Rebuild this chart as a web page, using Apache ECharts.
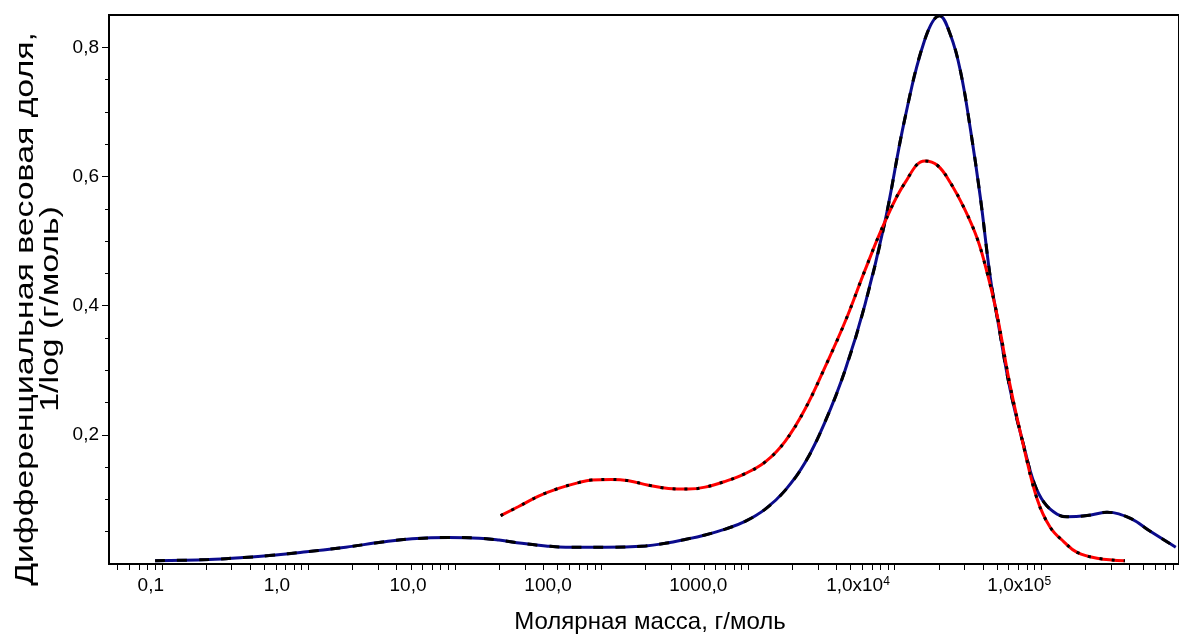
<!DOCTYPE html>
<html>
<head>
<meta charset="utf-8">
<script src="https://cdn.jsdelivr.net/npm/echarts@6.0.0/dist/echarts.min.js"></script>
<style>
html,body{margin:0;padding:0;background:#fff;}
#main{width:1179px;height:639px;}
</style>
</head>
<body>
<div id="main"></div>
<script>
// синяя кривая: молярная масса (г/моль) и дифф. весовая доля
var massBlue = [0.09, 0.21, 0.36, 0.54, 0.97, 1.8, 3.2, 5.1, 9.1, 14.6, 20, 28.6, 41.6, 57, 106, 200, 272, 372, 509, 698, 955, 1310, 1790, 2450, 3350, 4590, 6280, 8590, 11750, 16070, 20240, 24050, 28130, 32890, 38460, 44980, 50240, 61520, 76600, 89600, 104800, 128500, 150300, 205600, 281200, 403000, 551000, 828000];
var valBlue = [0.005, 0.007, 0.010, 0.013, 0.019, 0.026, 0.034, 0.039, 0.041, 0.040, 0.037, 0.032, 0.028, 0.026, 0.026, 0.028, 0.032, 0.038, 0.045, 0.054, 0.066, 0.085, 0.114, 0.157, 0.220, 0.300, 0.402, 0.530, 0.690, 0.812, 0.849, 0.819, 0.763, 0.673, 0.567, 0.443, 0.380, 0.269, 0.180, 0.125, 0.095, 0.077, 0.073, 0.075, 0.080, 0.071, 0.051, 0.026];
// красная кривая
var massRed = [20.5, 27.2, 37.2, 50.9, 69.8, 85.5, 117, 153, 209, 286, 391, 509, 698, 955, 1310, 1790, 2450, 3350, 4590, 6280, 8590, 11750, 16070, 19630, 24050, 29940, 36710, 42960, 50240, 61520, 76600, 94000, 115100, 143300, 175700, 240400, 372600];
var valRed = [0.075, 0.089, 0.105, 0.117, 0.126, 0.130, 0.131, 0.129, 0.122, 0.117, 0.116, 0.119, 0.128, 0.140, 0.158, 0.190, 0.240, 0.305, 0.375, 0.455, 0.530, 0.590, 0.624, 0.617, 0.590, 0.550, 0.503, 0.449, 0.383, 0.275, 0.178, 0.100, 0.057, 0.034, 0.018, 0.009, 0.005];

// подписи оси X и где они стоят (log10 M)
var xLabelText = ['0,1', '1,0', '10,0', '100,0', '1000,0', '1,0x10^4', '1,0x10^5'];
var xLabelPos = [-1.075, -0.214, 0.68, 1.636, 2.66, 3.75, 4.85];
var yLabelVals = [0.2, 0.4, 0.6, 0.8];
var yMinorVals = [0.05, 0.1, 0.15, 0.25, 0.3, 0.35, 0.45, 0.5, 0.55, 0.65, 0.7, 0.75];
var yTitle = 'Дифференциальная весовая доля,\n1/log (г/моль)';

var xMin = -1.36, xMax = 5.94;
var font = 'Liberation Sans, Arial, sans-serif';

// деления логарифмической шкалы
var xTicks = [];
for (var e = -2; e <= 5; e++) {
	for (var k = 1; k <= 9; k++) {
		var lv = Math.log10(k) + e;
		if (lv > xMin && lv < xMax) xTicks.push(lv);
	}
}

function toXY(mass, vals) {
	return mass.map(function (m, i) { return [Math.log10(m), vals[i]]; });
}
var blueData = toXY(massBlue, valBlue);
var redData = toXY(massRed, valRed);

var myChart = echarts.init(document.getElementById('main'));
var option = {
	animation: false,
	grid: {
		left: 109, right: -3, top: 15, bottom: 71,
		show: true, borderColor: '#000', borderWidth: 2
	},
	// подпись оси Y растянута по длине, как в оригинале
	graphic: [{
		type: 'text', x: 38, y: 309, rotation: Math.PI / 2, scaleX: 1.3,
		style: {
			text: yTitle, font: '26px ' + font, lineHeight: 25,
			fill: '#000', align: 'center', verticalAlign: 'middle'
		}
	}],
	xAxis: {
		type: 'value', min: xMin, max: xMax,
		name: 'Молярная масса, г/моль',
		nameLocation: 'middle', nameGap: 46,
		nameTextStyle: {fontFamily: font, fontSize: 24, color: '#000', padding: [0, 0, 0, 12]},
		axisLine: {show: true, onZero: false, lineStyle: {color: '#000', width: 2}},
		axisTick: {show: true, customValues: xTicks, length: 6, lineStyle: {color: '#000', width: 1}},
		axisLabel: {
			customValues: xLabelPos, margin: 12,
			fontFamily: font, fontSize: 19, color: '#000',
			formatter: function (v) {
				var idx = 0, best = 1e9;
				for (var i = 0; i < xLabelPos.length; i++) {
					var d = Math.abs(xLabelPos[i] - v);
					if (d < best) { best = d; idx = i; }
				}
				var t = xLabelText[idx];
				if (t.indexOf('^') >= 0) {
					var p = t.split('^');
					return '{b|' + p[0] + '}{s|' + p[1] + '}';
				}
				return t;
			},
			rich: {
				b: {fontFamily: font, fontSize: 19, color: '#000', lineHeight: 19},
				s: {fontFamily: font, fontSize: 12, color: '#000', lineHeight: 12, verticalAlign: 'top'}
			}
		},
		splitLine: {show: false}
	},
	yAxis: [{
		type: 'value', min: 0, max: 0.85, position: 'left',
		axisLine: {show: true, onZero: false, lineStyle: {color: '#000', width: 2}},
		axisTick: {show: true, customValues: yLabelVals, length: 7, lineStyle: {color: '#000'}},
		axisLabel: {
			customValues: yLabelVals, margin: 10,
			fontFamily: font, fontSize: 19, color: '#000',
			formatter: function (v) { return v.toFixed(1).replace('.', ','); }
		},
		splitLine: {show: false}
	}, {
		// мелкие деления
		type: 'value', min: 0, max: 0.85, position: 'left',
		axisLine: {show: false, onZero: false},
		axisTick: {show: true, customValues: yMinorVals, length: 4, lineStyle: {color: '#000'}},
		axisLabel: {show: false},
		splitLine: {show: false}
	}],
	series: [{
		type: 'line', data: blueData, yAxisIndex: 0, showSymbol: false,
		smooth: 0.4,
		lineStyle: {color: '#0b0b8c', width: 3}
	}, {
		type: 'line', data: blueData, yAxisIndex: 0, showSymbol: false,
		smooth: 0.4,
		lineStyle: {color: '#000', width: 3, type: [10, 12]}
	}, {
		type: 'line', data: redData, yAxisIndex: 0, showSymbol: false,
		smooth: 0.4,
		lineStyle: {color: '#ff0000', width: 3}
	}, {
		type: 'line', data: redData, yAxisIndex: 0, showSymbol: false,
		smooth: 0.4,
		lineStyle: {color: '#000', width: 3, type: [3, 9]}
	}]
};
myChart.setOption(option);
</script>
</body>
</html>
